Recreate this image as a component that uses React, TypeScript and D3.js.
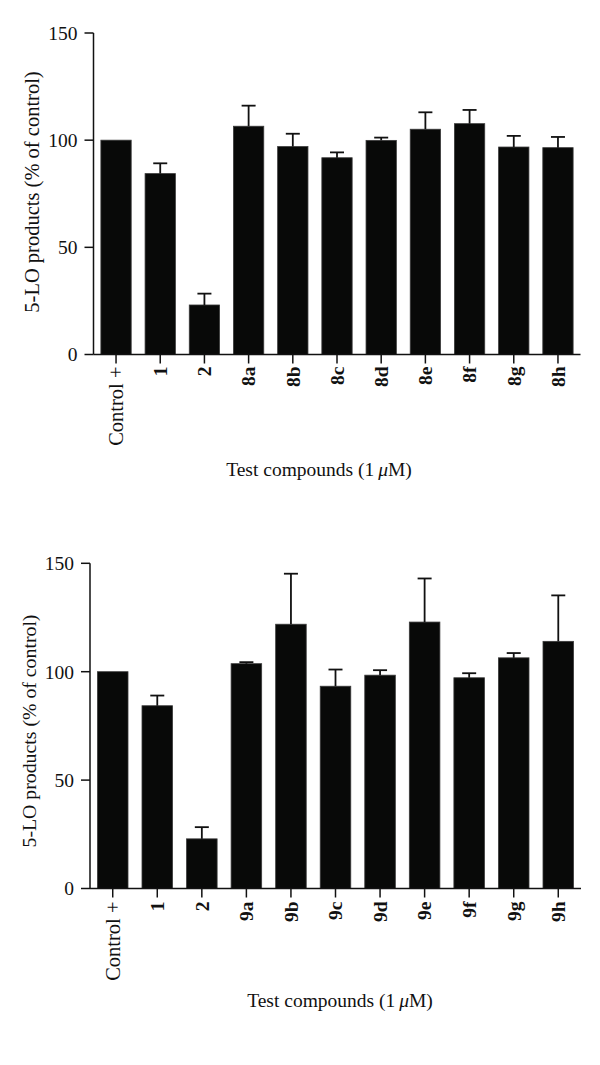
import React from "react";
import * as d3 from "d3";

const topCategories = ["Control +", "1", "2", "8a", "8b", "8c", "8d", "8e", "8f", "8g", "8h"];
const topValues = [100, 84.4, 23.1, 106.5, 97, 91.8, 99.9, 105.1, 107.7, 96.8, 96.5];
const topErrors = [0, 4.8, 5.3, 9.6, 6, 2.5, 1.3, 7.9, 6.4, 5.2, 5];

const bottomCategories = ["Control +", "1", "2", "9a", "9b", "9c", "9d", "9e", "9f", "9g", "9h"];
const bottomValues = [100, 84.3, 22.9, 103.7, 121.9, 93.3, 98.4, 122.9, 97.2, 106.4, 114];
const bottomErrors = [0, 4.7, 5.4, 0.7, 23.3, 7.7, 2.3, 20.1, 2.1, 2.2, 21.2];

const yTicks = [0, 50, 100, 150];
const yLabel = "5-LO products (% of control)";

const FONT = "'Liberation Serif', 'Times New Roman', serif";
const FS = 19.5;

type PanelProps = {
  cats: string[];
  vals: number[];
  errs: number[];
  x0: number;
  x1: number;
  yBottom: number;
  yTop: number;
  yLabelX: number;
  yLabelY: number;
  yLabelSize: number;
  titleX: number;
  titleY: number;
  tickLabelGap: number;
};

function Panel(p: PanelProps) {
  const x = d3
    .scaleBand<string>()
    .domain(p.cats)
    .range([p.x0, p.x1])
    .paddingInner(0.314)
    .paddingOuter(0.167);
  const y = d3.scaleLinear().domain([0, 150]).range([p.yBottom, p.yTop]);
  const bw = x.bandwidth();
  const axisColor = "#111";
  const tickLen = 9;
  return (
    <g>
      {p.cats.map((c, i) => (
        <rect
          key={"b" + c}
          x={x(c)!}
          y={y(p.vals[i])}
          width={bw}
          height={y(0) - y(p.vals[i])}
          fill="#080908"
          stroke="#3a3a3a"
          strokeWidth={0.8}
        />
      ))}
      {p.cats.map((c, i) =>
        p.errs[i] > 0 ? (
          <g key={"e" + c} stroke="#111" strokeWidth={1.8}>
            <line
              x1={x(c)! + bw / 2}
              x2={x(c)! + bw / 2}
              y1={y(p.vals[i])}
              y2={y(p.vals[i] + p.errs[i])}
            />
            <line
              x1={x(c)! + bw / 2 - 7}
              x2={x(c)! + bw / 2 + 7}
              y1={y(p.vals[i] + p.errs[i])}
              y2={y(p.vals[i] + p.errs[i])}
            />
          </g>
        ) : null
      )}
      <line x1={p.x0} x2={p.x0} y1={y(0)} y2={y(150)} stroke={axisColor} strokeWidth={1.5} />
      {yTicks.map((t) => (
        <g key={"yt" + t}>
          <line x1={p.x0 - tickLen} x2={p.x0} y1={y(t)} y2={y(t)} stroke={axisColor} strokeWidth={1.5} />
          <text
            x={p.x0 - tickLen - 7}
            y={y(t)}
            dy="0.35em"
            textAnchor="end"
            fontFamily={FONT}
            fontSize={FS}
            fill="#111"
          >
            {t}
          </text>
        </g>
      ))}
      <line x1={p.x0} x2={p.x1} y1={y(0)} y2={y(0)} stroke={axisColor} strokeWidth={1.5} />
      {p.cats.map((c, i) => {
        const cx = x(c)! + bw / 2;
        return (
          <g key={"xt" + c}>
            <line x1={cx} x2={cx} y1={y(0)} y2={y(0) + tickLen} stroke={axisColor} strokeWidth={1.5} />
            <text
              transform={`translate(${cx},${y(0) + p.tickLabelGap}) rotate(-90)`}
              dy="0.35em"
              textAnchor="end"
              fontFamily={FONT}
              fontSize={i === 0 ? 20.5 : FS}
              fontWeight={i === 0 ? "normal" : "bold"}
              fill="#111"
            >
              {c}
            </text>
          </g>
        );
      })}
      <text
        transform={`translate(${p.yLabelX},${p.yLabelY}) rotate(-90)`}
        textAnchor="middle"
        fontFamily={FONT}
        fontSize={p.yLabelSize}
        fill="#111"
      >
        {yLabel}
      </text>
      <text x={p.titleX} y={p.titleY} textAnchor="middle" fontFamily={FONT} fontSize={FS} fill="#111">
        Test compounds (1{"\u2009"}
        <tspan fontStyle="italic">{"\u03bc"}</tspan>M)
      </text>
    </g>
  );
}

export default function App() {
  return (
    <div style={{ position: "absolute", left: 0, top: 0 }}>
      <svg width={600} height={1065} style={{ display: "block", background: "#fff" }}>
        <rect width={600} height={1065} fill="#fff" />
        <Panel
          cats={topCategories}
          vals={topValues}
          errs={topErrors}
          x0={93.5}
          x1={580.5}
          yBottom={354.5}
          yTop={33}
          yLabelX={39}
          yLabelY={192}
          yLabelSize={20.5}
          titleX={319}
          titleY={476}
          tickLabelGap={12}
        />
        <Panel
          cats={bottomCategories}
          vals={bottomValues}
          errs={bottomErrors}
          x0={90}
          x1={581}
          yBottom={888.5}
          yTop={563.3}
          yLabelX={36}
          yLabelY={731}
          yLabelSize={19.8}
          titleX={340}
          titleY={1007}
          tickLabelGap={13}
        />
      </svg>
    </div>
  );
}
